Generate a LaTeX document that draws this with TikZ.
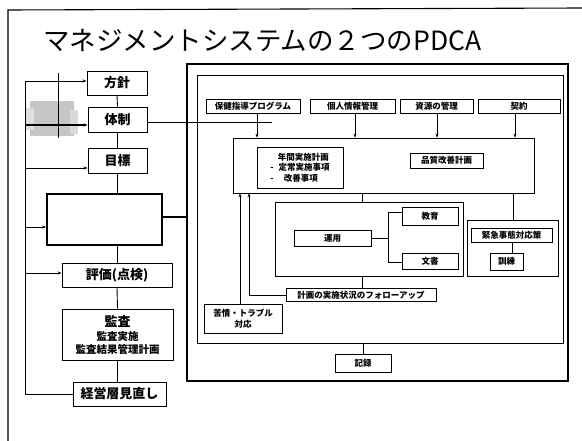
\documentclass[tikz,border=0pt]{standalone}
\usepackage{fontspec}
\newfontfamily\jp{Noto Sans CJK JP}
\usetikzlibrary{arrows.meta}
\tikzset{
  lbox/.style={draw, line width=0.9pt, fill=white, inner sep=0pt, font=\jp\bfseries\fontsize{13}{15}\selectfont},
  rbox/.style={draw, line width=0.7pt, fill=white, inner sep=0pt, font=\jp\bfseries\fontsize{8.5}{10.5}\selectfont},
  frame/.style={draw, line width=0.7pt, inner sep=0pt},
  conn/.style={line width=0.6pt},
  lconn/.style={line width=0.9pt},
  arr/.style={-{Stealth[length=4pt,width=3pt]}},
}
\begin{document}
\begin{tikzpicture}[x=1pt,y=-1pt]
\useasboundingbox (0,0) rectangle (582,441);
% page frame
\draw[line width=1.1pt] (8,441) -- (8,10) -- (582,8);
% title
\node[anchor=west, inner sep=0pt, font=\jp\fontsize{26.5}{30}\selectfont] (title) at (43,41) {マネジメントシステムの２つのPDCA};

% scan artifact near 体制
\fill[gray!45] (30,101) rectangle (74,136);
\fill[gray!25] (26,108) rectangle (34,130);
\fill[gray!30] (70,110) rectangle (78,134);
\draw[line width=1pt] (58,73) -- (58,138);

% left column
\node[lbox, minimum width=60, minimum height=24] (fz) at (117,83) {方針};
\node[lbox, minimum width=59, minimum height=25] (tz) at (117.5,119.5) {体制};
\node[lbox, minimum width=59, minimum height=25] (mb) at (117.5,160.5) {目標};
\node[draw, line width=1.7pt, fill=white, minimum width=115, minimum height=51, inner sep=0pt] (big) at (104.5,219.5) {};
\node[lbox, minimum width=110, minimum height=24] (hk) at (117,275) {評価(点検)};
\node[lbox, minimum width=111, minimum height=51, align=center] (ks) at (117.5,334.5) {監査\\[-1pt]{\fontsize{10.5}{13}\selectfont 監査実施}\\[-2pt]{\fontsize{10.5}{13}\selectfont 監査結果管理計画}};
\node[lbox, minimum width=93, minimum height=24] (km) at (119.5,394) {経営層見直し};

% spine
\draw[lconn] (fz.south) -- (tz.north);
\draw[lconn] (tz.south) -- (mb.north);
\draw[lconn] (mb.south) -- (mb.south |- big.north);
\draw[lconn] (hk.north |- big.south) -- (hk.north);
\draw[lconn] (hk.south) -- (ks.north);
\draw[lconn] (ks.south) -- (ks.south |- km.north);

% loop
\coordinate (L0) at (25,394);
\coordinate (L1) at (25,81);
\coordinate (L2) at (25,125);
\coordinate (L3) at (25,168);
\coordinate (L4) at (25,227);
\coordinate (L5) at (25,273);
\draw[lconn] (km.west) -- (L0) -- (L1);
\draw[lconn,arr] (L1) -- (L1 -| fz.west);
\draw[line width=2pt] (L2) -- ++(12,0);
\draw[line width=2pt,arr] ([xshift=11pt]L2) -- (L2 -| tz.west);
\draw[lconn,arr] (L3) -- (L3 -| mb.west);
\draw[lconn,arr] (L4) -- (L4 -| big.west);
\draw[lconn,arr] (L5) -- (L5 -| hk.west);

% right frames
\node[frame, line width=1.9pt, minimum width=381, minimum height=317] (outer) at (377.5,222.5) {};
\node[frame, line width=0.8pt, minimum width=366, minimum height=268] (inner) at (380,209) {};
\draw[line width=1.6pt] (big.east |- 0,217) -- (outer.west |- 0,217);
\coordinate (tzend) at (272,122);
\draw[conn] (tz.east |- tzend) -- (tzend);

% top row
\node[rbox, minimum width=94, minimum height=14] (b1) at (253,106) {保健指導プログラム};
\node[rbox, minimum width=85, minimum height=14] (b2) at (352.5,106) {個人情報管理};
\node[rbox, minimum width=73, minimum height=14] (b3) at (436.5,106) {資源の管理};
\node[rbox, minimum width=82, minimum height=14] (b4) at (519,106) {契約};

% plan box
\node[frame, minimum width=301, minimum height=55] (plan) at (383.5,165.5) {};
\node[rbox, minimum width=86, minimum height=41, align=left] (nk) at (300,167.5) {\hspace{0.9em}年間実施計画\\-\hspace{0.6em}定常実施事項\\-\hspace{1.2em}改善事項};
\node[rbox, minimum width=73, minimum height=15] (hs) at (446.5,160.5) {品質改善計画};

\draw[conn,arr] ([xshift=4pt]b1.south) -- ([xshift=4pt]b1.south |- plan.north);
\draw[conn,arr] ([xshift=2.5pt]b2.south) -- ([xshift=2.5pt]b2.south |- plan.north);
\draw[conn,arr] ([xshift=0.5pt]b3.south) -- ([xshift=0.5pt]b3.south |- plan.north);
\draw[conn,arr] ([xshift=-4pt]b4.south) -- ([xshift=-4pt]b4.south |- plan.north);

% operation frame
\node[frame, minimum width=188, minimum height=74] (uf) at (369,239) {};
\node[rbox, minimum width=77, minimum height=16] (uy) at (332.5,238) {運用};
\node[rbox, minimum width=56, minimum height=18] (ki) at (430,216) {教育};
\node[rbox, minimum width=56, minimum height=16] (bs) at (430,261) {文書};
\coordinate (br) at (388,238);
\coordinate (brt) at (388,212);
\coordinate (brb) at (388,262);
\draw[conn] (uy.east) -- (br);
\draw[conn] (brt -| ki.west) -- (brt) -- (brb) -- (brb -| bs.west);
\draw[conn] (plan.south -| 362,0) -- (uf.north -| 362,0);

% emergency frame
\node[frame, minimum width=91, minimum height=56] (ef) at (512.5,248) {};
\node[rbox, minimum width=81, minimum height=14] (kj) at (511.5,235) {緊急事態対応策};
\node[rbox, minimum width=33, minimum height=17] (kr) at (506.5,261.5) {訓練};
\draw[conn] (kj.south -| 512,0) -- (kr.north -| 512,0);
\draw[conn] (plan.south -| 513,0) -- (ef.north -| 513,0);

% follow-up
\node[rbox, minimum width=150, minimum height=13] (fu) at (361,295) {計画の実施状況のフォローアップ};
\draw[conn] (uf.south -| 362,0) -- (fu.north -| 362,0);
\coordinate (fuc) at (249,295);
\draw[conn,arr] (fu.west) -- (fuc) -- (fuc |- plan.south);

% complaints
\node[rbox, minimum width=78, minimum height=29, align=center] (kt) at (243,318.5) {苦情・トラブル\\対応};
\coordinate (ktc) at (240,304);
\draw[conn,arr] (ktc) -- (ktc |- plan.south);

% record
\node[rbox, minimum width=56, minimum height=18] (kk) at (363,363) {記録};
\draw[conn] (inner.south -| kk.north) -- (kk.north);
\end{tikzpicture}
\end{document}
